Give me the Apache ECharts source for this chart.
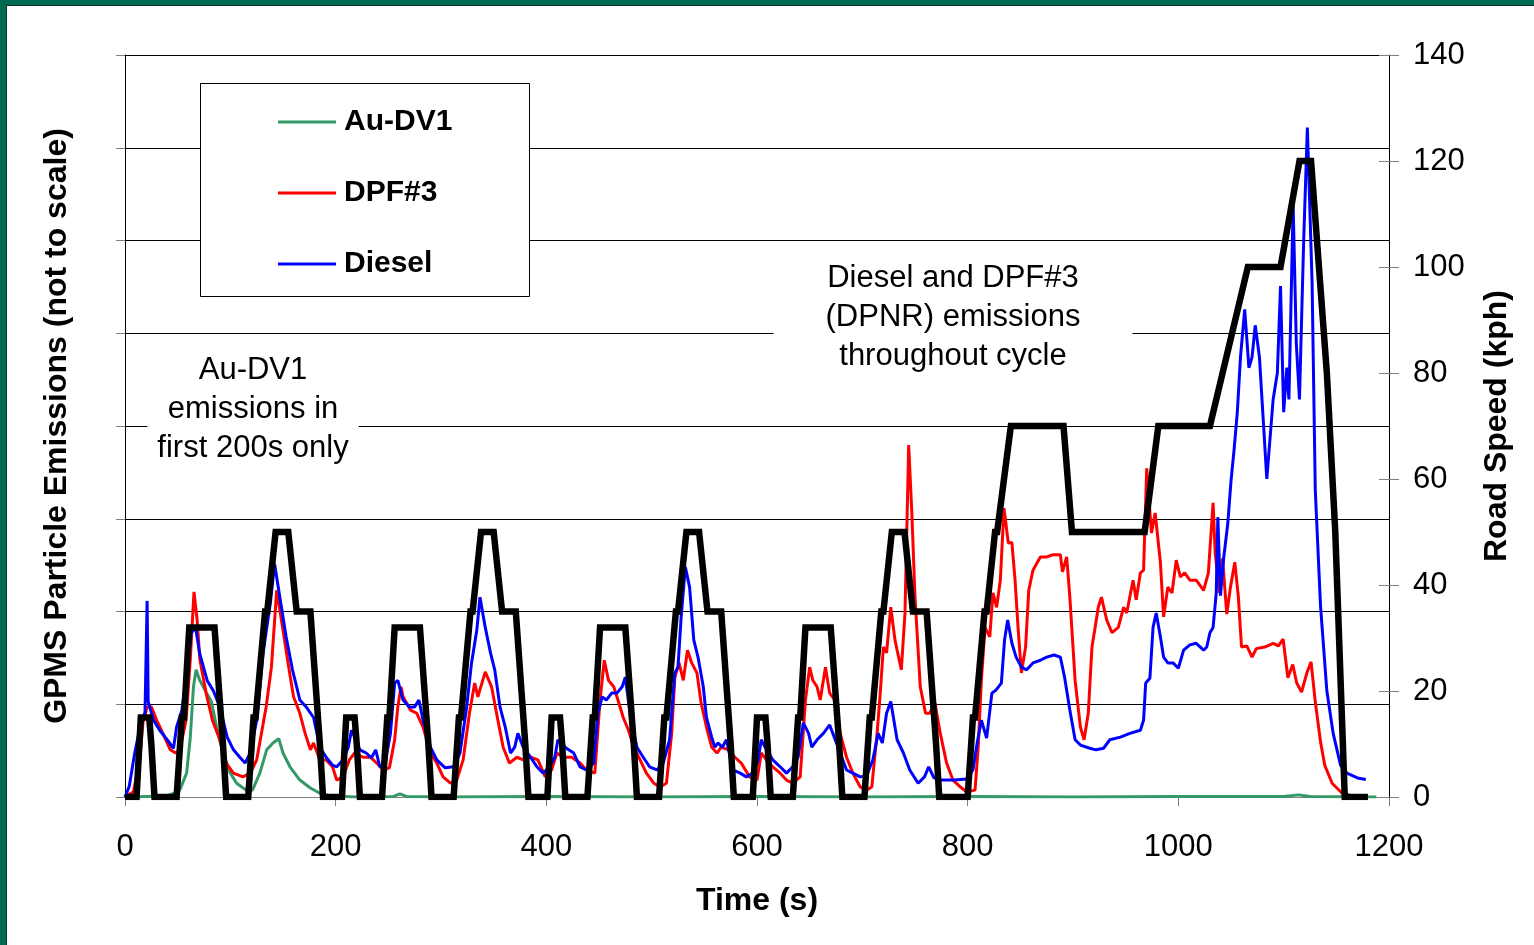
<!DOCTYPE html>
<html>
<head>
<meta charset="utf-8">
<script src="https://cdn.jsdelivr.net/npm/echarts@6/dist/echarts.min.js"></script>
<style>
html,body{margin:0;padding:0;background:#fff;}
#chart{width:1534px;height:945px;}
</style>
</head>
<body>
<div id="chart"></div>
<script>
// ---- data: [time (s), value] ----
const xTicks = [0, 200, 400, 600, 800, 1000, 1200];
const speedTicks = [0, 20, 40, 60, 80, 100, 120, 140];

// Road speed (kph) – NEDC-like profile
const speedTime = [0,11,15,23,25,28,49,54,56,61,85,93,96,117,122,124,133,135,143,155,163,176,185,188,
  206,210,218,220,223,244,249,251,256,280,288,291,312,317,319,328,330,338,350,358,371,380,383,
  401,405,413,415,418,439,444,446,451,475,483,486,507,512,514,523,525,533,545,553,566,575,578,
  596,600,608,610,613,634,639,641,646,670,678,681,702,707,709,718,720,728,740,748,761,770,773,
  800,805,807,816,818,826,828,841,891,899,968,981,1030,1066,1097,1115,1126,1141,1149,1158,1180];
const speedKph = [0,0,15,15,10,0,0,15,15,32,32,10,0,0,15,15,35,35,50,50,35,35,10,0,
  0,15,15,10,0,0,15,15,32,32,10,0,0,15,15,35,35,50,50,35,35,10,0,
  0,15,15,10,0,0,15,15,32,32,10,0,0,15,15,35,35,50,50,35,35,10,0,
  0,15,15,10,0,0,15,15,32,32,10,0,0,15,15,35,35,50,50,35,35,10,0,
  0,15,15,35,35,50,50,70,70,50,50,70,70,100,100,120,120,80,50,0,0];

// Emissions (not to scale; drawn on left axis 0-140)
const auDv1Pts = [[0,0],[40,0.2],[46,0.7],[52,1.3],[58.5,4.5],[62,11.3],[65,20.8],[67.5,24],[71,22],[77.5,19.6],[82,18],[87,13.2],[93,8.3],[100,4.5],[106,2.6],[115,1.3],[121,1.3],[128,4.5],[134.5,8.9],[140.5,10.2],[146,11],[150,8.3],[156.6,5.7],[166,3.2],[176,1.7],[185,0.7],[195,0.2],[220,0],[255,0.1],[261,0.6],[267,0.1],[300,0],[400,0.1],[500,0],[600,0.1],[700,0],[800,0.1],[900,0],[1000,0.1],[1100,0.1],[1114,0.4],[1125,0.1],[1188,0]];

const dpf3Pts = [[0,0],[8,1],[14,7],[17,14],[21,17],[25,17],[30,14.5],[36,12],[43,8.9],[48,8.3],[52,8.9],[58,14.5],[62,26],[65.5,38.7],[68.5,33.4],[71,26],[77,19.6],[83,14.5],[90,10.8],[96,6.4],[103,4.5],[112,3.8],[119,4.5],[125,7],[134,17],[139,24.5],[144,39],[150,31.5],[155,25],[160,18.9],[166,15.8],[171,12],[176,8.9],[179,10.2],[185,7],[191,7],[197,5.7],[201,3.2],[207,3.8],[213,7],[218,8.3],[226,7.5],[233,7.5],[239,6.4],[245,5.1],[251,5.5],[256,10.8],[259,17],[262,20.8],[264,18.9],[271,16.4],[277,15.8],[283,13.2],[290,8.3],[296,6.4],[302,3.8],[309,2.6],[315,3.2],[321,7],[327,15.8],[332,21.5],[335,18.9],[342,23.6],[348,20.8],[354,14.5],[359,9.4],[365,6.4],[372,7.5],[378,7],[385,7.5],[392,7],[399,3.8],[405,5.1],[410,8.3],[416,7.5],[424,7.5],[432,6.4],[438,5.1],[446,4.5],[451,18.3],[455,25.8],[459,22],[464,20.8],[468,18.3],[473,15],[478,12.6],[483,9.4],[489,7],[495,4.5],[502,2.6],[508,1.9],[514,2.6],[519,12],[522,22.6],[526,25.3],[530,22],[534,27.7],[538,25.3],[543,23.4],[547,17.7],[552,13.2],[557,9.4],[562,8.3],[566,9.4],[573,8.9],[579,7.5],[585,6.4],[593,3.8],[600,3.2],[604,8.3],[609,7],[615,5.7],[622,4.5],[628,3.2],[634,2.6],[641,3.8],[646,18.3],[650,24.5],[653,22],[657,20.8],[660,18.3],[665,24.5],[669,19.6],[674,18.3],[679,12],[685,7.5],[691,4.5],[698,1.9],[704,1.3],[709,1.9],[714,12],[717,19.6],[720,28.3],[723,27.2],[727,35.8],[731,29.6],[737,24],[740.5,34.7],[744,66.4],[747,53.6],[750,37.7],[755,20.8],[760,15.8],[764,15.8],[769,17.7],[774,12],[780,6.4],[786,3.2],[793,1.9],[799,1],[807,1.3],[810,9.4],[813,22],[816.5,32],[821,30.2],[824,38.5],[827.5,35.8],[831,40.9],[834.5,54.5],[838.6,47.9],[842,48],[845,40.9],[848,31.5],[851,23.4],[855,28.3],[858,39],[862,42.8],[869,45.3],[875,45.3],[881,45.7],[888,45.7],[890,42.5],[894,45.3],[897,37.7],[902,22],[907,13.2],[910.5,10.8],[914.5,15.8],[918,28.3],[921,32],[924,35.8],[927,37.7],[932,33.4],[937,31],[943,32],[948,35.8],[951,34.7],[957,40.9],[960,37.2],[964,42.3],[967,42.8],[970,62],[974.5,49.8],[978,53.6],[983,44.2],[986,34],[990,39.6],[994,38.5],[998,44.7],[1002,41.5],[1006,42.3],[1011,40.9],[1017,40.9],[1024,39],[1028.5,42.3],[1033,55.5],[1035,46],[1039,38.5],[1042,45],[1046,34.5],[1049.5,39.6],[1053.6,44.3],[1057,37.7],[1060,28.3],[1065,28.5],[1070,26.4],[1074,28],[1082,28.3],[1090,29],[1095,28.5],[1099.5,29.8],[1104,22.5],[1108.6,25],[1112.4,21.5],[1117,19.8],[1122,23.4],[1126,25.5],[1130,18],[1135,10.4],[1139,6],[1146,2.6],[1155,0.8],[1163,0.3],[1175,0]];

const dieselPts = [[0,0],[4,2],[9,8],[14,13],[19,16],[21,37],[22,18],[27,14.5],[33,12.6],[40,10.8],[46,9.2],[49,13.2],[54,16.4],[59,24],[63,31],[67,32],[71,27],[78,22],[84,20],[90,17],[97,11.3],[103,8.9],[109,7.5],[114,6.4],[119,8.3],[125,14.5],[131,27],[138,36.6],[142,44],[147,37.7],[153,30.2],[159,24],[166,18.3],[172,17],[179,15],[185,9.4],[191,7.5],[197,6],[201,5.7],[207,7],[212,9.4],[215,12.6],[218,11.3],[223,8.9],[229,8.3],[234,7.4],[238,8.9],[242,5.7],[247,6.4],[252,12],[256,21.5],[259,22],[264,18.3],[270,17],[275,17],[279,18.3],[283,14.5],[290,9.4],[296,7],[304,5.5],[312,5.7],[318,8.3],[324,16.4],[329,25.3],[334,31.5],[337,37.7],[342,32],[347,27.2],[351,24],[356,17],[361,13.2],[366,8.3],[370,9.4],[373,12],[378,9.4],[385,7.5],[391,5.7],[397,4.5],[403,5.7],[408,7.5],[411,10.8],[419,9.2],[426,8.3],[432,5.7],[438,5.1],[445,6.4],[449,15.8],[453,18.9],[457,18.3],[462,19.6],[467,19.6],[472,20.8],[475,22.6],[480,15],[486,9.4],[492,7.5],[498,5.7],[505,5.1],[511,6.4],[517,10.8],[522,23.4],[525,24.5],[528,34],[532,43.4],[536,39.6],[540,29.6],[544,26.4],[549,20.8],[552,15],[557,11.3],[560,9.4],[563,10.2],[567,9.4],[571,10.8],[577,5.1],[584,4.5],[590,3.8],[596,4.5],[601,7],[604,10.8],[609,8.9],[615,7],[622,5.7],[628,4.5],[634,5.7],[639,7.5],[644,14],[649,12],[652,9.4],[657,10.8],[663,12],[669,13.6],[672,12],[679,8.3],[685,5.1],[691,4.5],[698,3.8],[704,4],[710,7],[715,12],[719,10.2],[723,15.8],[727,18],[733,10.8],[739,8.3],[745,5.1],[753,2.6],[759,3.8],[763,5.7],[768,3.6],[775,3.2],[787,3.2],[799,3.4],[805,5.1],[809,10.2],[813,14.5],[818,11.1],[823,19.6],[827,20.2],[832,21.5],[835,29.6],[838,33.4],[842,29],[846,26.4],[851,24.5],[856,24],[862,25.3],[869,25.8],[875,26.4],[882,26.8],[888,26.4],[892,22.6],[897,16.4],[902,10.8],[907,9.8],[916,9.2],[922,8.9],[929,9.2],[935,10.8],[945,11.3],[954,12],[964,12.6],[967,14.5],[969,21.5],[973,22.4],[976,32],[979,34.7],[983,30.2],[986,26.4],[990,25.3],[995,25.3],[1000,24.3],[1005,27.7],[1011,28.7],[1017,29],[1024,27.7],[1027,28.3],[1030,31],[1033,32],[1036,38.5],[1037.5,52.8],[1040,38],[1043,45],[1047,51.7],[1050,59.6],[1053,65.7],[1056,72.6],[1059,83],[1063,92],[1067,81],[1070,83],[1073,89],[1077,83],[1084,60],[1090,75],[1094,80],[1097,96.4],[1100,72.6],[1103,81],[1105,75],[1109,111.7],[1112,85.6],[1115,75],[1119,105],[1122.5,126.3],[1127,97],[1130,58],[1135,36],[1141,20],[1147,12],[1154,6],[1160,4.5],[1170,3.6],[1178,3.3]];

// ---- chart ----
const FONT = '"Liberation Sans", Arial, sans-serif';
const speedPts = speedTime.map((t, i) => [t, speedKph[i]]);
const chart = echarts.init(document.getElementById('chart'), null, {renderer: 'canvas'});

chart.setOption({
  animation: false,
  backgroundColor: '#ffffff',
  textStyle: {fontFamily: FONT},
  grid: {left: 125, right: 145, top: 55, bottom: 148, containLabel: false},
  legend: {
    data: ['Au-DV1', 'DPF#3', 'Diesel'],
    orient: 'vertical',
    left: 278, top: 107,
    padding: 0,
    itemWidth: 58, itemHeight: 30, itemGap: 41,
    icon: 'path://M0,0 L58,0 L58,3 L0,3 Z',
    textStyle: {fontFamily: FONT, fontSize: 30, fontWeight: 'bold', color: '#000', padding: [0, 0, 0, 3]},
    z: 5
  },
  xAxis: {
    type: 'value', min: 0, max: 1200, interval: 200,
    name: 'Time (s)', nameLocation: 'middle', nameGap: 88,
    nameTextStyle: {fontFamily: FONT, fontSize: 32, fontWeight: 'bold', color: '#000'},
    axisLine: {show: true, lineStyle: {color: '#808080', width: 1}},
    axisTick: {show: true, inside: false, length: 9, lineStyle: {color: '#808080'}},
    axisLabel: {fontFamily: FONT, fontSize: 31, color: '#000', margin: 35,
      formatter: v => xTicks.includes(v) ? String(v) : ''},
    splitLine: {show: false}
  },
  yAxis: [
    {
      type: 'value', min: 0, max: 140, interval: 17.5, position: 'left',
      name: 'GPMS Particle Emissions (not to scale)', nameLocation: 'middle', nameGap: 52, nameRotate: 90,
      nameTextStyle: {fontFamily: FONT, fontSize: 32, fontWeight: 'bold', color: '#000'},
      axisLine: {show: true, lineStyle: {color: '#000', width: 1}},
      axisTick: {show: true, inside: false, length: 9, lineStyle: {color: '#808080'}},
      axisLabel: {show: false},
      splitLine: {show: true, lineStyle: {color: '#000', width: 1}}
    },
    {
      type: 'value', min: 0, max: 140, interval: 20, position: 'right',
      name: 'Road Speed (kph)', nameLocation: 'middle', nameGap: 92, nameRotate: 90,
      nameTextStyle: {fontFamily: FONT, fontSize: 32, fontWeight: 'bold', color: '#000'},
      axisLine: {show: true, lineStyle: {color: '#000', width: 1}},
      axisTick: {show: true, inside: false, length: 10, lineStyle: {color: '#808080'}},
      axisLabel: {fontFamily: FONT, fontSize: 31, color: '#000', margin: 24,
        formatter: v => speedTicks.includes(v) ? String(v) : ''},
      splitLine: {show: false}
    },
    {
      type: 'value', min: 0, max: 140, interval: 20, position: 'right',
      axisLine: {show: false},
      axisTick: {show: true, inside: true, length: 10, lineStyle: {color: '#808080'}},
      axisLabel: {show: false},
      splitLine: {show: false}
    }
  ],
  graphic: [
    {type: 'rect', z: 1, shape: {x: 0, y: 0, width: 6, height: 945}, style: {fill: '#006B55'}},
    {type: 'rect', z: 1, shape: {x: 0, y: 0, width: 1534, height: 5}, style: {fill: '#006B55'}},
    {type: 'rect', z: 1, shape: {x: 6, y: 5, width: 1, height: 940}, style: {fill: '#13352b'}},
    {type: 'rect', z: 1, shape: {x: 6, y: 5, width: 1528, height: 1}, style: {fill: '#13352b'}},
    {type: 'rect', z: 1, shape: {x: 200.5, y: 83.5, width: 329, height: 213},
      style: {fill: '#fff', stroke: '#000', lineWidth: 1}},
    {type: 'text', z: 1, x: 953, y: 317,
      style: {text: 'Diesel and DPF#3\n(DPNR) emissions\nthroughout cycle', fill: '#000',
        font: '31px ' + FONT, textAlign: 'center', textVerticalAlign: 'middle', lineHeight: 39,
        backgroundColor: '#fff', padding: [4, 52]}},
    {type: 'text', z: 1, x: 253, y: 409,
      style: {text: 'Au-DV1\nemissions in\nfirst 200s only', fill: '#000',
        font: '31px ' + FONT, textAlign: 'center', textVerticalAlign: 'middle', lineHeight: 39,
        backgroundColor: '#fff', padding: [4, 10]}}
  ],
  series: [
    {name: 'Au-DV1', type: 'line', yAxisIndex: 0, data: auDv1Pts, showSymbol: false, symbol: 'none',
      color: '#339966', lineStyle: {color: '#339966', width: 3}, z: 2},
    {name: 'DPF#3', type: 'line', yAxisIndex: 0, data: dpf3Pts, showSymbol: false, symbol: 'none',
      color: '#FF0000', lineStyle: {color: '#FF0000', width: 3}, z: 3},
    {name: 'Diesel', type: 'line', yAxisIndex: 0, data: dieselPts, showSymbol: false, symbol: 'none',
      color: '#0000FF', lineStyle: {color: '#0000FF', width: 3}, z: 4},
    {name: 'Road Speed', type: 'line', yAxisIndex: 1, data: speedPts, showSymbol: false, symbol: 'none',
      color: '#000', lineStyle: {color: '#000', width: 6.5, join: 'miter'}, z: 5}
  ]
});
</script>
</body>
</html>
